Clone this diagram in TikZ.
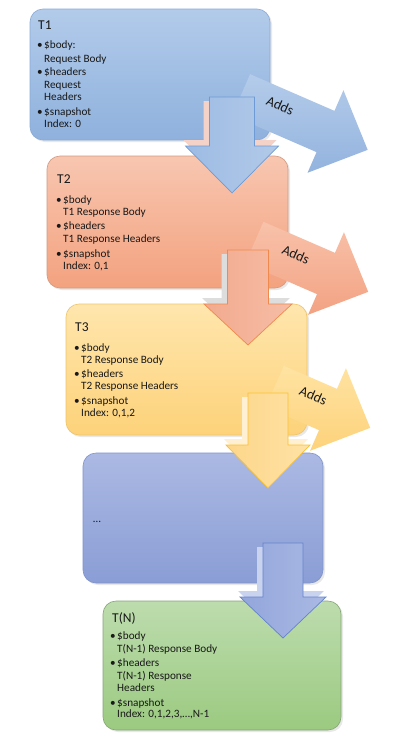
\documentclass[tikz,border=0pt]{standalone}
\usepackage{fontspec}
\setmainfont{Carlito}
\definecolor{bAtop}{HTML}{B2CBEA}\definecolor{bAbot}{HTML}{8FB1DD}\definecolor{bAln}{HTML}{8AAAD6}
\definecolor{bBtop}{HTML}{F8C6B0}\definecolor{bBbot}{HTML}{F3A27F}\definecolor{bBln}{HTML}{D39A80}
\definecolor{bCtop}{HTML}{FFE6AD}\definecolor{bCbot}{HTML}{FDD27A}\definecolor{bCln}{HTML}{EEC46C}
\definecolor{bDtop}{HTML}{ABB9E3}\definecolor{bDbot}{HTML}{8A9DD5}\definecolor{bDln}{HTML}{7F93CC}
\definecolor{bEtop}{HTML}{BDDCAE}\definecolor{bEbot}{HTML}{9BCA80}\definecolor{bEln}{HTML}{86A577}
\definecolor{aAtop}{HTML}{B4CCEA}\definecolor{aAbot}{HTML}{93B3DE}
\definecolor{aBtop}{HTML}{F8C2AA}\definecolor{aBbot}{HTML}{F3A283}
\definecolor{aCtop}{HTML}{FFE3A2}\definecolor{aCbot}{HTML}{FDD27B}
\definecolor{dAl}{HTML}{9DBBE3}\definecolor{dAr}{HTML}{B2CAE9}\definecolor{dAln}{HTML}{6E9BD5}\definecolor{dAsh}{HTML}{F4D2C8}
\definecolor{dBl}{HTML}{F2AA8E}\definecolor{dBr}{HTML}{F6BDA6}\definecolor{dBln}{HTML}{EF8A4C}\definecolor{dBsh}{HTML}{DDDDDD}
\definecolor{dCl}{HTML}{FDD68A}\definecolor{dCr}{HTML}{FEE2A6}\definecolor{dCln}{HTML}{FBC12F}\definecolor{dCsh}{HTML}{FFF0D4}
\definecolor{dDl}{HTML}{93A6DB}\definecolor{dDr}{HTML}{AAB9E4}\definecolor{dDln}{HTML}{6483CC}\definecolor{dDsh}{HTML}{CAD3EE}
\newcommand\darrowblk[7]{%
  \path[#7] (#1-#5,#2) -- (#1+#5,#2) -- (#1+#5,#3) -- (#1+#6,#3) -- (#1,#4)
    -- (#1-#6,#3) -- (#1-#5,#3) -- cycle;}
\newcommand\darrowshd[7]{%
  \path[fill=#7] (#1-#5-6,#2+4) -- (#1+#5-6,#2+4) -- (#1+#5-6,#3-6) -- (#1+#6-2,#3-6)
    -- (#1-2,#4-6) -- (#1-#6-2,#3-6) -- (#1-#5-6,#3-6) -- cycle;}
\newcommand\addsblk[8]{% x y start top bottom name textu textv
  \begin{scope}[shift={(#1,#2)}, rotate=-23.5]
    \path[top color=#4, bottom color=#5] (#3,-22.5) -- (0,-22.5) -- (0,-45) -- (46,0)
      -- (0,45) -- (0,22.5) -- (#3,22.5) -- cycle;
    \node[addstxt] (#6) at (#7,#8) {Adds};
  \end{scope}}
\begin{document}
\begin{tikzpicture}[x=1pt,y=-1pt,
  box/.style={draw, rounded corners=13pt, line width=0.6pt, anchor=north west,
    inner sep=0pt, outer sep=0pt},
  bshadow/.style={fill=black, opacity=0.09, rounded corners=13pt},
  ttl/.style={anchor=base west, inner sep=0pt, font=\fontsize{13.5}{15}\selectfont, text=black!90},
  txt/.style={anchor=base west, inner sep=0pt, font=\fontsize{11.2}{12}\selectfont, text=black!90},
  addstxt/.style={anchor=center, inner sep=0pt, font=\fontsize{14}{16}\selectfont,
    text=black!90, rotate=-23.5}]
\useasboundingbox (0,0) rectangle (402,742);
\fill[white] (0,0) rectangle (402,742);

% ---- Box 1
\fill[bshadow] (32,11) rectangle ++(240,131);
\node[box, draw=bAln, top color=bAtop, bottom color=bAbot,
  minimum width=240pt, minimum height=131pt] (box1) at (30,9) {};
\addsblk{325.5}{131.5}{-92}{aAtop}{aAbot}{adds1}{-52}{-6}
\node[ttl] (t1) at (38,29) {T1};
\node[txt] (t1b0) at (37,48) {•};
\node[txt] (t1l1) at (44,48) {\$body:};
\node[txt] (t1l2) at (44,62) {Request Body};
\node[txt] (t1b1) at (37,75) {•};
\node[txt] (t1l3) at (44,75) {\$headers};
\node[txt] (t1l4) at (44,88) {Request};
\node[txt] (t1l5) at (44,100) {Headers};
\node[txt] (t1b2) at (37,115) {•};
\node[txt] (t1l6) at (44,115) {\$snapshot};
\node[txt] (t1l7) at (44,127) {Index: 0};

% ---- Box 2
\fill[bshadow] (49,158) rectangle ++(241,132);
\node[box, draw=bBln, top color=bBtop, bottom color=bBbot,
  minimum width=241pt, minimum height=132pt] (box2) at (47,156) {};
\addsblk{326}{273.5}{-78}{aBtop}{aBbot}{adds2}{-35}{-5}
\node[ttl] (t2) at (57,183) {T2};
\node[txt] (t2b0) at (56,203) {•};
\node[txt] (t2l1) at (63,203) {\$body};
\node[txt] (t2l2) at (63,215) {T1 Response Body};
\node[txt] (t2b1) at (56,229) {•};
\node[txt] (t2l3) at (63,229) {\$headers};
\node[txt] (t2l4) at (63,242) {T1 Response Headers};
\node[txt] (t2b2) at (56,257) {•};
\node[txt] (t2l5) at (63,257) {\$snapshot};
\node[txt] (t2l6) at (63,269) {Index: 0,1};

% ---- Box 3
\fill[bshadow] (68,306) rectangle ++(241,131);
\node[box, draw=bCln, top color=bCtop, bottom color=bCbot,
  minimum width=241pt, minimum height=131pt] (box3) at (66,304) {};
\addsblk{328}{409.5}{-58}{aCtop}{aCbot}{adds3}{-19}{-7}
\node[ttl] (t3) at (75,331) {T3};
\node[txt] (t3b0) at (74,351) {•};
\node[txt] (t3l1) at (81,351) {\$body};
\node[txt] (t3l2) at (81,363) {T2 Response Body};
\node[txt] (t3b1) at (74,377) {•};
\node[txt] (t3l3) at (81,377) {\$headers};
\node[txt] (t3l4) at (81,389) {T2 Response Headers};
\node[txt] (t3b2) at (74,404) {•};
\node[txt] (t3l5) at (81,404) {\$snapshot};
\node[txt] (t3l6) at (81,416) {Index: 0,1,2};

% ---- Box 4
\fill[bshadow] (85,455) rectangle ++(240,130);
\node[box, draw=bDln, top color=bDtop, bottom color=bDbot,
  minimum width=240pt, minimum height=130pt] (box4) at (83,453) {};
\node[txt] (t4) at (93,522) {…};

% ---- Box 5
\fill[bshadow] (105,603) rectangle ++(238,129);
\node[box, draw=bEln, top color=bEtop, bottom color=bEbot,
  minimum width=238pt, minimum height=129pt] (box5) at (103,601) {};
\node[ttl] (t5) at (112,622) {T(N)};
\node[txt] (t5b0) at (110,639) {•};
\node[txt] (t5l1) at (117,639) {\$body};
\node[txt] (t5l2) at (117,652) {T(N-1) Response Body};
\node[txt] (t5b1) at (110,666) {•};
\node[txt] (t5l3) at (117,666) {\$headers};
\node[txt] (t5l4) at (117,679) {T(N-1) Response};
\node[txt] (t5l5) at (117,691) {Headers};
\node[txt] (t5b2) at (110,706) {•};
\node[txt] (t5l6) at (117,706) {\$snapshot};
\node[txt] (t5l7) at (117,717) {Index: 0,1,2,3,…,N-1};

% ---- Down arrows
\darrowshd{232}{97}{146}{193}{22.5}{46.5}{dAsh}
\darrowblk{232}{97}{146}{193}{22.5}{46.5}{left color=dAl, right color=dAr, draw=dAln, line width=0.7pt}
\darrowshd{248}{250}{304}{345}{20.5}{44}{dBsh}
\darrowblk{248}{250}{304}{345}{20.5}{44}{left color=dBl, right color=dBr, draw=dBln, line width=0.7pt}
\darrowshd{268}{393}{445}{488}{20}{42}{dCsh}
\darrowblk{268}{393}{445}{488}{20}{42}{left color=dCl, right color=dCr, draw=dCln, line width=0.7pt}
\darrowshd{283}{543}{597}{638}{20}{43}{dDsh}
\darrowblk{283}{543}{597}{638}{20}{43}{left color=dDl, right color=dDr, draw=dDln, line width=0.7pt}
\end{tikzpicture}
\end{document}
